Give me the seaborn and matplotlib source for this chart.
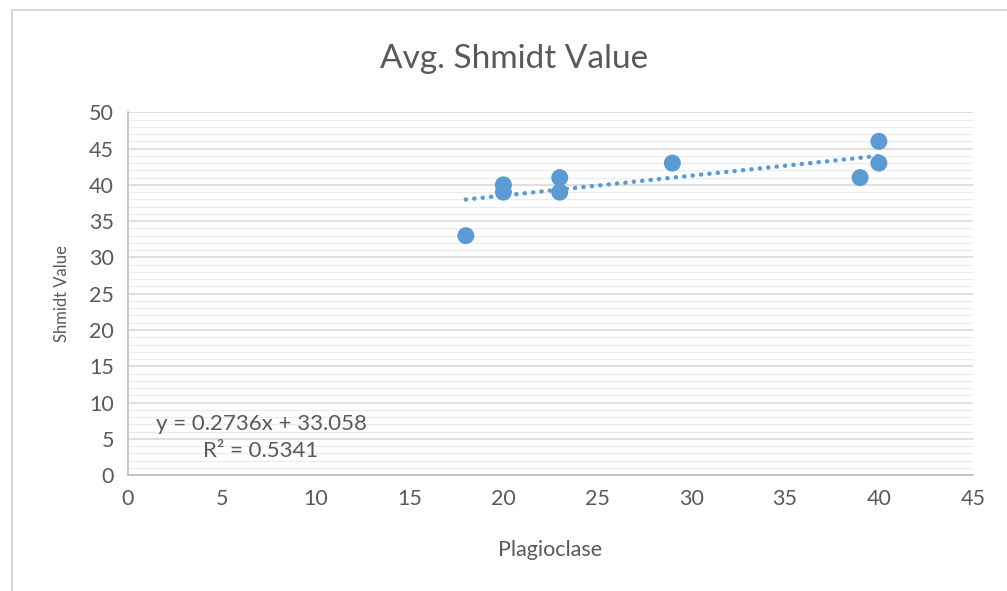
import numpy as np
import pandas as pd
import matplotlib
matplotlib.use("Agg")
import matplotlib.pyplot as plt
from matplotlib.patches import Rectangle
import seaborn as sns

# Measurements: plagioclase content vs. averaged Schmidt hammer rebound
plagioclase = [18, 20, 20, 23, 23, 29, 39, 40, 40]
shmidt_value = [33, 40, 39, 41, 39, 43, 41, 46, 43]

# Linear trend reported on the chart
slope = 0.2736
intercept = 33.058
r_squared = 0.5341

x_ticks = [0, 5, 10, 15, 20, 25, 30, 35, 40, 45]
y_ticks = [0, 5, 10, 15, 20, 25, 30, 35, 40, 45, 50]

sns.set_theme(style="white")
plt.rcParams["font.family"] = ["Lato", "DejaVu Sans"]

text_color = "#595959"
point_color = "#5B9BD5"

fig = plt.figure(figsize=(10.07, 5.91), dpi=100)
ax = fig.add_axes([0.127, 0.196, 0.839, 0.614])

# chart frame
fig.patches.append(Rectangle((12 / 1007, -0.05), 1.1, 1 - 10 / 591 + 0.05,
                             transform=fig.transFigure, fill=False,
                             edgecolor="#d0d0d0", linewidth=1.2))

df = pd.DataFrame({"Plagioclase": plagioclase, "Shmidt Value": shmidt_value})

trend_x = np.array([min(plagioclase), max(plagioclase)])
trend = pd.DataFrame({"x": trend_x, "y": slope * trend_x + intercept})
sns.lineplot(data=trend, x="x", y="y", ax=ax, color=point_color,
             linewidth=3.2, linestyle=(0, (0.05, 1.85)),
             dash_capstyle="round", zorder=3)
sns.scatterplot(data=df, x="Plagioclase", y="Shmidt Value", ax=ax,
                color=point_color, s=150, edgecolor="none", zorder=4)

ax.set_xlim(0, 45)
ax.set_ylim(0, 50)
ax.set_xticks(x_ticks)
ax.set_yticks(y_ticks)
ax.set_yticks(np.arange(0, 50, 1), minor=True)
ax.grid(axis="y", which="major", color="#d9d9d9", linewidth=1.2)
ax.grid(axis="y", which="minor", color="#ececec", linewidth=0.9)
ax.grid(axis="x", visible=False)
ax.set_axisbelow(True)

for side in ["top", "right"]:
    ax.spines[side].set_visible(False)
for side in ["left", "bottom"]:
    ax.spines[side].set_color("#bfbfbf")
    ax.spines[side].set_linewidth(1.2)

ax.tick_params(axis="both", which="major", direction="out", length=6,
               width=1.2, color="#bfbfbf", labelsize=15.5, labelcolor=text_color,
               pad=4)
ax.tick_params(axis="y", which="minor", length=0)

ax.set_xlabel("Plagioclase", fontsize=15.5, color=text_color, labelpad=22)
ax.set_ylabel("Shmidt Value", fontsize=12, color=text_color, labelpad=14)
fig.text(0.51, 0.900, "Avg. Shmidt Value", ha="center", va="center",
         fontsize=24, color=text_color)

ax.text(1.5, 7.0, f"y = {slope}x + {intercept}", fontsize=16,
        color=text_color, ha="left", va="center")
ax.text(4.0, 3.3, f"R² = {r_squared}", fontsize=16,
        color=text_color, ha="left", va="center")

fig.savefig("out.png", dpi=100, facecolor="white")
